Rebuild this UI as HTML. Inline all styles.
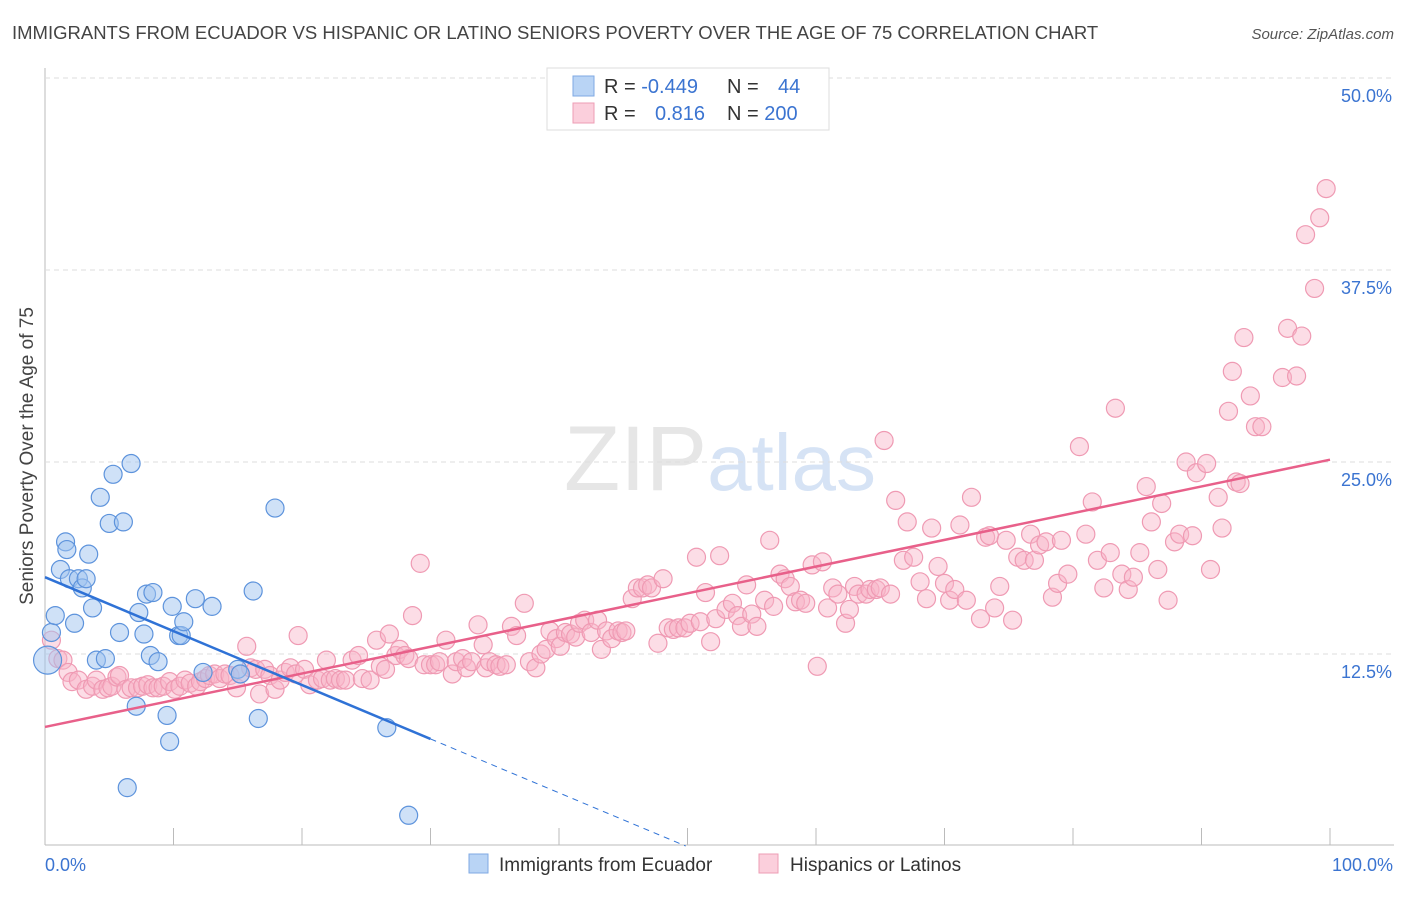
<!DOCTYPE html>
<html><head><meta charset="utf-8"><style>
body{margin:0;background:#fff;font-family:"Liberation Sans",sans-serif;}
svg text{font-family:"Liberation Sans",sans-serif;}
</style></head><body>
<svg id="chart" width="1406" height="892" xmlns="http://www.w3.org/2000/svg">
<text x="12" y="39" font-size="18.5" fill="#444">IMMIGRANTS FROM ECUADOR VS HISPANIC OR LATINO SENIORS POVERTY OVER THE AGE OF 75 CORRELATION CHART</text>
<text x="1394" y="39" font-size="15" fill="#555" font-style="italic" text-anchor="end">Source: ZipAtlas.com</text>
<text x="720" y="490" font-size="92" text-anchor="middle" fill="#e6e6e6" font-family="Liberation Serif">ZIP<tspan fill="#d6e3f5" font-family="Liberation Sans" font-size="80">atlas</tspan></text>
<text transform="translate(33,456) rotate(-90)" font-size="19" fill="#444" text-anchor="middle">Seniors Poverty Over the Age of 75</text>
<g id="grid"></g><g id="marks"></g>
<g>
<rect x="547" y="68" width="282" height="62" fill="#fff" stroke="#ddd"/>
<rect x="573" y="76" width="21" height="20" fill="#b9d4f5" stroke="#7fa9e3"/>
<rect x="573" y="103" width="21" height="20" fill="#fbcfdc" stroke="#ee9db4"/>
<text x="604" y="93" font-size="20" fill="#333">R = <tspan fill="#3b74d1">-0.449</tspan></text>
<text x="727" y="93" font-size="20" fill="#333">N = <tspan x="778" fill="#3b74d1">44</tspan></text>
<text x="604" y="120" font-size="20" fill="#333">R = <tspan x="655" fill="#3b74d1">0.816</tspan></text>
<text x="727" y="120" font-size="20" fill="#333">N = <tspan fill="#3b74d1">200</tspan></text>
</g>
<g>
<rect x="469" y="854" width="19" height="19" fill="#b9d4f5" stroke="#7fa9e3"/>
<text x="499" y="871" font-size="19" fill="#333">Immigrants from Ecuador</text>
<rect x="759" y="854" width="19" height="19" fill="#fbcfdc" stroke="#ee9db4"/>
<text x="790" y="871" font-size="19" fill="#333">Hispanics or Latinos</text>
</g>
</svg>
<script>
const yTicks=[12.5,25,37.5,50];
const xTickLabels=["0.0%","100.0%"];
const blueX=[0.2,0.5,0.8,1.2,1.6,1.7,1.9,2.3,2.6,2.9,3.2,3.4,3.7,4.0,4.3,4.7,5.0,5.3,5.8,6.1,6.7,7.1,7.3,7.7,7.9,8.2,8.4,8.8,9.5,9.7,9.9,10.4,10.6,10.8,11.7,12.3,13.0,15.0,15.2,16.2,16.6,17.9,26.6,28.3,6.4];
const blueY=[12.1,13.9,15.0,18.0,19.8,19.3,17.4,14.5,17.4,16.8,17.4,19.0,15.5,12.1,22.7,12.2,21.0,24.2,13.9,21.1,24.9,9.1,15.2,13.8,16.4,12.4,16.5,12.0,8.5,6.8,15.6,13.7,13.7,14.6,16.1,11.3,15.6,11.5,11.2,16.6,8.3,22.0,7.7,2.0,3.8];
const pinkX=[0.5,1.0,1.4,1.8,2.1,2.6,3.2,3.7,4.0,4.5,4.9,5.2,5.6,5.8,6.3,6.7,7.2,7.6,8.0,8.4,8.8,9.2,9.7,10.1,10.5,10.9,11.3,11.8,12.1,12.5,12.8,13.2,13.6,14.0,14.4,14.9,15.2,15.7,16.0,16.4,16.7,17.1,17.5,17.9,18.3,18.7,19.1,19.5,19.7,20.2,20.6,21.2,21.6,21.9,22.2,22.6,23.0,23.4,23.9,24.4,24.7,25.3,25.8,26.1,26.5,26.8,27.3,27.6,28.0,28.3,28.6,29.2,29.5,30.0,30.4,30.7,31.2,31.7,32.0,32.5,32.8,33.2,33.7,34.1,34.3,34.6,35.1,35.4,35.9,36.3,36.7,37.3,37.7,38.2,38.6,39.0,39.3,39.8,40.1,40.5,40.9,41.3,41.6,42.0,42.5,43.0,43.3,43.7,44.1,44.6,44.9,45.2,45.7,46.1,46.5,46.9,47.2,47.7,48.1,48.5,48.9,49.3,49.8,50.2,50.7,51.0,51.4,51.8,52.2,52.5,53.0,53.5,53.9,54.2,54.6,55.0,55.4,56.0,56.4,56.7,57.2,57.6,58.0,58.4,58.8,59.2,59.7,60.1,60.5,60.9,61.3,61.7,62.3,62.6,63.0,63.3,63.9,64.2,64.7,65.0,65.3,65.8,66.2,66.8,67.1,67.6,68.1,68.6,69.0,69.5,70.0,70.4,70.8,71.2,71.7,72.1,72.8,73.2,73.5,73.9,74.3,74.8,75.3,75.7,76.2,76.7,77.0,77.4,77.9,78.4,78.8,79.1,79.6,80.5,81.0,81.5,81.9,82.4,82.9,83.3,83.8,84.3,84.7,85.2,85.7,86.1,86.6,86.9,87.4,87.9,88.3,88.8,89.3,89.6,90.4,90.7,91.3,91.6,92.1,92.4,92.7,93.0,93.3,93.8,94.2,94.7,96.3,96.7,97.4,97.8,98.1,98.8,99.2,99.7];
const pinkY=[13.4,12.2,12.1,11.3,10.7,10.8,10.2,10.4,10.8,10.2,10.3,10.4,11.0,11.1,10.2,10.3,10.3,10.4,10.5,10.3,10.3,10.4,10.7,10.2,10.4,10.8,10.6,10.4,10.7,10.9,11.1,11.2,10.9,11.2,11.1,10.3,11.2,13.0,11.6,11.5,9.9,11.5,11.1,10.2,10.8,11.3,11.6,11.2,13.7,11.5,10.5,10.8,10.9,12.1,10.8,10.9,10.8,10.8,12.1,12.4,10.9,10.8,13.4,11.7,11.5,13.8,12.4,12.8,12.4,12.2,15.0,18.4,11.8,11.8,11.8,12.0,13.4,11.2,12.0,12.2,11.6,12.0,14.4,13.1,11.6,12.0,11.8,11.7,11.8,14.3,13.7,15.8,12.0,11.6,12.5,12.8,14.0,13.5,13.0,13.9,13.8,13.6,14.5,14.7,13.9,14.7,12.8,14.0,13.5,14.0,13.9,14.0,16.1,16.8,16.8,17.0,16.8,13.2,17.4,14.2,14.1,14.2,14.2,14.5,18.8,14.6,16.5,13.3,14.8,18.9,15.4,15.8,15.0,14.3,17.0,15.1,14.3,16.0,19.9,15.6,17.7,17.4,16.9,15.9,16.0,15.8,18.3,11.7,18.5,15.5,16.8,16.4,14.5,15.4,16.9,16.4,16.4,16.7,16.7,16.8,26.4,16.4,22.5,18.6,21.1,18.8,17.2,16.1,20.7,18.2,17.1,16.0,16.7,20.9,16.0,22.7,14.8,20.1,20.2,15.5,16.9,19.9,14.7,18.8,18.6,20.3,18.6,19.6,19.8,16.2,17.1,19.9,17.7,26.0,20.3,22.4,18.6,16.8,19.1,28.5,17.7,16.7,17.5,19.1,23.4,21.1,18.0,22.3,16.0,19.8,20.3,25.0,20.2,24.3,24.9,18.0,22.7,20.7,28.3,30.9,23.7,23.6,33.1,29.3,27.3,27.3,30.5,33.7,30.6,33.2,39.8,36.3,40.9,42.8];
const blueTrend=[17.5,-0.351];
const pinkTrend=[7.75,0.174];
const NS="http://www.w3.org/2000/svg";
const sx=v=>45+v*12.85, sy=v=>846-v*15.36;
function mk(t,a,p){const e=document.createElementNS(NS,t);for(const k in a)e.setAttribute(k,a[k]);p.appendChild(e);return e;}
const grid=document.getElementById('grid'), marks=document.getElementById('marks');
let ln=mk('line',{x1:45,y1:68,x2:45,y2:845,stroke:'#bbb'},grid);


ln=mk('line',{x1:45,y1:845,x2:1394,y2:845,stroke:'#bbb'},grid);


for(let i=0;i<=10;i++){const t=mk('line',{x1:sx(i*10),y1:828,x2:sx(i*10),y2:845,stroke:'#bbb'},grid);

}
yTicks.forEach(v=>{const g=mk('line',{x1:45,y1:sy(v),x2:1394,y2:sy(v),stroke:'#ddd','stroke-dasharray':'5,4'},grid);


const t=mk('text',{x:1392,y:sy(v)+24,'font-size':18,fill:'#3b74d1','text-anchor':'end'},grid);t.textContent=v.toFixed(1)+'%';

});
let xl=mk('text',{x:45,y:871,'font-size':18,fill:'#3b74d1'},grid);xl.textContent=xTickLabels[0];


xl=mk('text',{x:1393,y:871,'font-size':18,fill:'#3b74d1','text-anchor':'end'},grid);xl.textContent=xTickLabels[1];


pinkX.forEach((x,i)=>{const c=mk('circle',{cx:sx(x),cy:sy(pinkY[i]),r:9,fill:'rgba(248,180,200,0.45)',stroke:'#ef9ab3','stroke-width':1.2},marks);

});
blueX.forEach((x,i)=>{const c=mk('circle',{cx:sx(x),cy:sy(blueY[i]),r:i==0?14:9,fill:'rgba(160,195,240,0.5)',stroke:'#5d93dc','stroke-width':1.2},marks);

});
const bt=x=>blueTrend[0]+blueTrend[1]*x, pt=x=>pinkTrend[0]+pinkTrend[1]*x;
let l=mk('line',{x1:sx(0),y1:sy(pt(0)),x2:sx(100),y2:sy(pt(100)),stroke:'#e8608a','stroke-width':2.5},marks);


l=mk('line',{x1:sx(0),y1:sy(bt(0)),x2:sx(30),y2:sy(bt(30)),stroke:'#2f72d6','stroke-width':2.5},marks);


const xe=blueTrend[0]/-blueTrend[1];
l=mk('line',{x1:sx(30),y1:sy(bt(30)),x2:sx(xe),y2:sy(0),stroke:'#2f72d6','stroke-width':1,'stroke-dasharray':'6,5'},marks);


</script>
</body></html>
